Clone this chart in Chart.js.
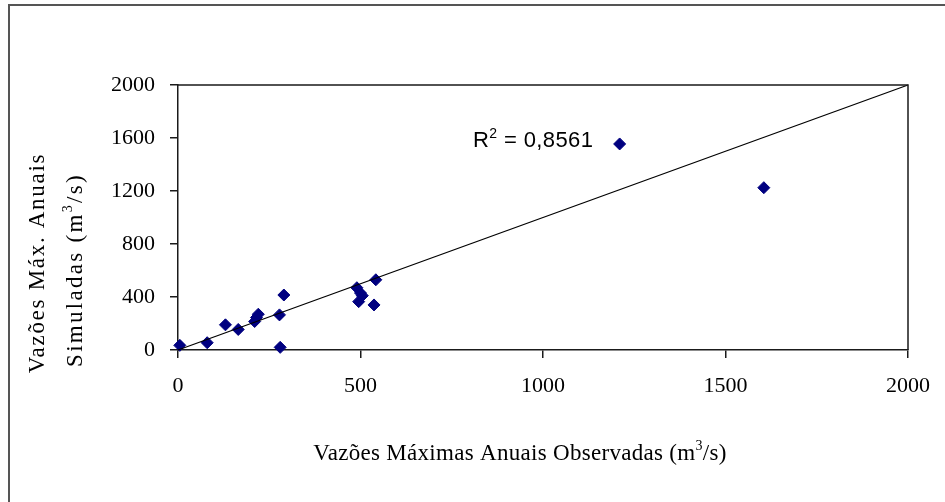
<!DOCTYPE html>
<html>
<head>
<meta charset="utf-8">
<script src="https://cdn.jsdelivr.net/npm/chart.js@4"></script>
<style>
  html, body { margin: 0; padding: 0; background: #fff; overflow: hidden; }
  canvas { display: block; }
</style>
</head>
<body>
<canvas id="c" width="945" height="502"></canvas>
<script>
// Annual peak flows: observed (x) against simulated (y), in m³/s
const observed  = [5, 80, 130, 165, 210, 220, 215, 278, 290, 280, 490, 500, 505, 495, 537, 542, 1210, 1605];
const simulated = [35, 55, 190, 155, 215, 270, 245, 265, 415, 20, 470, 430, 410, 365, 340, 530, 1555, 1225];

// 1:1 line
const lineObs = [0, 2000];
const lineSim = [0, 2000];

// Axis ticks
const xTicks = [0, 500, 1000, 1500, 2000];
const yTicks = [0, 400, 800, 1200, 1600, 2000];

// Coefficient of determination shown on the plot
const r2Value = '0,8561';

const SERIF = '"Liberation Serif", "Times New Roman", serif';
const SANS = '"Liberation Sans", Arial, sans-serif';

// Draws a run of text pieces where some pieces are superscripts
function drawRich(ctx, parts, x, y, size, family, align) {
  const supSize = Math.round(size * 0.62);
  const widths = parts.map(p => {
    ctx.font = (p.sup ? supSize : size) + 'px ' + family;
    return ctx.measureText(p.t).width;
  });
  const total = widths.reduce((a, b) => a + b, 0);
  let cx = align === 'center' ? x - total / 2 : x;
  ctx.textAlign = 'left';
  ctx.textBaseline = 'alphabetic';
  parts.forEach((p, i) => {
    ctx.font = (p.sup ? supSize : size) + 'px ' + family;
    ctx.fillText(p.t, cx, p.sup ? y - size * 0.42 : y);
    cx += widths[i];
  });
}

const decorPlugin = {
  id: 'decor',
  beforeDraw(chart) {
    const ctx = chart.ctx;
    ctx.save();
    ctx.fillStyle = '#fff';
    ctx.fillRect(0, 0, chart.width, chart.height);
    // outer frame
    ctx.strokeStyle = '#555';
    ctx.lineWidth = 2;
    ctx.beginPath();
    ctx.moveTo(9, chart.height);
    ctx.lineTo(9, 5);
    ctx.lineTo(chart.width, 5);
    ctx.stroke();
    ctx.restore();
  },
  afterDraw(chart) {
    const ctx = chart.ctx;
    const a = chart.chartArea;
    const xs = chart.scales.x, ys = chart.scales.y;
    ctx.save();
    // top and right edges of the plot box
    ctx.strokeStyle = '#1a1a1a';
    ctx.lineWidth = 1.5;
    ctx.beginPath();
    ctx.moveTo(a.left, a.top);
    ctx.lineTo(a.right, a.top);
    ctx.lineTo(a.right, a.bottom);
    ctx.stroke();

    ctx.fillStyle = '#000';
    // x-axis title
    ctx.save();
    ctx.letterSpacing = '0.3px';
    drawRich(ctx, [
      { t: 'Vazões Máximas Anuais Observadas (m' }, { t: '3', sup: true }, { t: '/s)' }
    ], 520, 460, 23, SERIF, 'center');
    ctx.restore();

    // y-axis title, two rotated lines
    ctx.save();
    ctx.translate(44, 263);
    ctx.rotate(-Math.PI / 2);
    ctx.letterSpacing = '1.7px';
    drawRich(ctx, [{ t: 'Vazões Máx. Anuais' }], 0, 0, 23, SERIF, 'center');
    ctx.restore();

    ctx.save();
    ctx.translate(82, 270);
    ctx.rotate(-Math.PI / 2);
    ctx.letterSpacing = '2.3px';
    drawRich(ctx, [
      { t: 'Simuladas (m' }, { t: '3', sup: true }, { t: '/s)' }
    ], 0, 0, 23, SERIF, 'center');
    ctx.restore();

    // R² annotation
    ctx.save();
    ctx.letterSpacing = '0.4px';
    drawRich(ctx, [
      { t: 'R' }, { t: '2', sup: true }, { t: ' = ' + r2Value }
    ], xs.getPixelForValue(808), ys.getPixelForValue(1530), 22, SANS, 'left');
    ctx.restore();
    ctx.restore();
  }
};

const points = observed.map((v, i) => ({ x: v, y: simulated[i] }));
const line = lineObs.map((v, i) => ({ x: v, y: lineSim[i] }));

new Chart(document.getElementById('c'), {
  type: 'scatter',
  data: {
    datasets: [
      {
        type: 'line',
        data: line,
        borderColor: '#000',
        borderWidth: 1.3,
        pointRadius: 0,
        fill: false,
        clip: false
      },
      {
        data: points,
        pointStyle: 'rectRot',
        pointRadius: 6,
        pointBackgroundColor: '#000080',
        pointBorderColor: '#000080',
        pointBorderWidth: 1,
        clip: false
      }
    ]
  },
  options: {
    responsive: false,
    animation: false,
    devicePixelRatio: 1,
    layout: { autoPadding: false, padding: { top: 85, right: 36, left: 0, bottom: 0 } },
    plugins: { legend: { display: false }, tooltip: { enabled: false } },
    scales: {
      x: {
        type: 'linear',
        min: 0, max: 2000,
        afterBuildTicks: s => { s.ticks = xTicks.map(v => ({ value: v })); },
        afterFit: s => { s.height = 152; },
        ticks: {
          callback: v => String(v),
          color: '#000',
          padding: 15,
          maxRotation: 0,
          font: { family: SERIF, size: 22 }
        },
        grid: { display: true, drawOnChartArea: false, drawTicks: true, tickLength: 8, color: '#1a1a1a', lineWidth: 1.5 },
        border: { display: true, color: '#1a1a1a', width: 1.5 }
      },
      y: {
        type: 'linear',
        min: 0, max: 2000,
        afterBuildTicks: s => { s.ticks = yTicks.map(v => ({ value: v })); },
        afterFit: s => { s.width = 178; },
        ticks: {
          callback: v => String(v),
          color: '#000',
          padding: 15,
          font: { family: SERIF, size: 22 }
        },
        grid: { display: true, drawOnChartArea: false, drawTicks: true, tickLength: 8, color: '#1a1a1a', lineWidth: 1.5 },
        border: { display: true, color: '#1a1a1a', width: 1.5 }
      }
    }
  },
  plugins: [decorPlugin]
});
</script>
</body>
</html>
